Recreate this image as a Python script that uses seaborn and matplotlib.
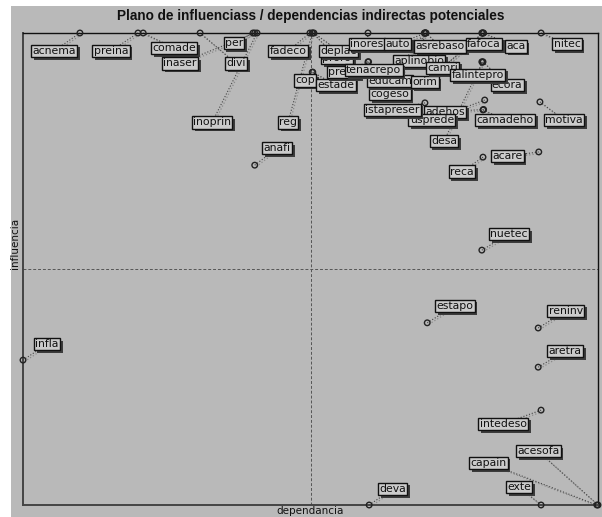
import pandas as pd
import matplotlib.pyplot as plt
import matplotlib.patheffects as pe
import matplotlib.transforms as mtransforms
from matplotlib.patches import Rectangle
import seaborn as sns

# Variables of the influence / dependence plane (label drawing order, bottom to top)
names = ["acnema", "preina", "comade", "inaser", "per", "divi", "fadeco", "inoprin",
         "reg", "anafi", "proro", "deplac", "cop", "estade", "inores", "auto",
         "asrebaso", "aca", "fafoca", "nitec", "aplinobio", "preco", "cogeso", "educam",
         "orim", "tenacrepo", "ecora", "camri", "falintepro", "adehos", "usprede",
         "istapreser", "desa", "camadeho", "motiva", "acare", "reca", "nuetec",
         "estapo", "reninv", "aretra", "intedeso", "acesofa", "capain", "exte",
         "deva", "infla"]
dependencia = [9.9, 20.0, 20.9, 40.3, 40.0, 30.8, 49.9, 40.7,
               50.3, 40.3, 50.4, 50.6, 50.3, 50.4, 60.0, 70.0,
               70.1, 80.0, 79.8, 90.1, 69.9, 60.0, 70.0, 69.8,
               80.1, 60.1, 80.0, 79.9, 79.8, 80.1, 80.3,
               69.9, 79.9, 80.0, 89.9, 89.7, 80.0, 79.8,
               70.3, 89.6, 89.6, 90.1, 100.0, 99.8, 90.1,
               60.2, 0.0]
influencia = [100, 100, 100, 100, 100, 100, 100, 100,
              100, 72.0, 100, 100, 91.7, 91.7, 100, 100,
              100, 100, 100, 100, 100, 93.9, 100, 100,
              100, 93.9, 93.9, 100, 93.9, 83.8, 85.8,
              85.2, 93.8, 83.7, 85.4, 74.8, 73.7, 54.0,
              38.6, 37.5, 29.2, 20.1, 0, 0, 0,
              0, 30.7]

# Label placement (layout, in axis units)
label_x = [5.4, 15.3, 26.3, 27.3, 36.7, 37.0, 46.1, 32.9,
           46.1, 44.2, 54.6, 54.9, 49.0, 54.4, 59.8, 65.2,
           72.5, 85.7, 80.2, 94.6, 68.9, 55.7, 63.8, 63.8,
           69.9, 61.0, 84.2, 73.0, 79.1, 73.4, 71.1,
           64.2, 73.2, 83.8, 94.1, 84.2, 76.3, 84.5,
           75.1, 94.4, 94.3, 83.5, 89.6, 80.9, 86.3,
           64.3, 4.2]
label_y = [96.2, 96.2, 96.8, 93.6, 97.9, 93.6, 96.2, 81.1,
           81.1, 75.6, 94.7, 96.2, 90.0, 89.0, 97.7, 97.7,
           97.2, 97.2, 97.7, 97.7, 94.1, 91.7, 87.1, 89.8,
           89.6, 92.2, 89.0, 92.6, 91.1, 83.3, 81.6,
           83.7, 77.1, 81.6, 81.6, 73.9, 70.6, 57.4,
           42.2, 41.1, 32.6, 17.2, 11.4, 8.9, 3.8,
           3.4, 34.1]

BG = "#b9b9b9"
BOX = "#cbcbcb"

sns.set_style("white")
plt.rcParams["font.family"] = ["DejaVu Sans"]

df = pd.DataFrame({"var": names, "dependencia": dependencia, "influencia": influencia,
                   "lx": label_x, "ly": label_y})

fig = plt.figure(figsize=(6.02, 5.17), dpi=100)
fig.patch.set_facecolor("white")
fig.patches.append(Rectangle((11 / 602, 0), 1, 511 / 517, transform=fig.transFigure,
                             facecolor=BG, edgecolor="none", zorder=-10))
ax = fig.add_axes([23 / 602, 12 / 517, 575 / 602, 472 / 517])
ax.set_facecolor(BG)

# Quadrant separators
ax.axvline(50, color="#555555", ls=(0, (3, 2)), lw=0.7, zorder=1)
ax.axhline(50, color="#555555", ls=(0, (3, 2)), lw=0.7, zorder=1)

# Leader lines from point to label (with a light shadow line)
shadow_tr = mtransforms.offset_copy(ax.transData, fig=fig, x=1.5, y=-1.5, units="dots")
for _, r in df.iterrows():
    ax.plot([r["dependencia"], r["lx"]], [r["influencia"], r["ly"]], ls=":",
            color="#8a8a8a", lw=0.9, transform=shadow_tr, zorder=2, clip_on=False)
    ax.plot([r["dependencia"], r["lx"]], [r["influencia"], r["ly"]], ls=":",
            color="#444444", lw=0.8, zorder=2, clip_on=False)

sns.scatterplot(data=df, x="dependencia", y="influencia", ax=ax, marker="o", s=16,
                facecolor="none", edgecolor="#222222", linewidth=1.0, zorder=3,
                clip_on=False, legend=False)

for i, r in df.iterrows():
    t = ax.text(r["lx"], r["ly"], r["var"], fontsize=7.8, ha="center", va="center",
                color="#111111", zorder=10 + i,
                bbox=dict(boxstyle="square,pad=0.12", fc=BOX, ec="#111111", lw=1.0))
    t.get_bbox_patch().set_path_effects([
        pe.withSimplePatchShadow(offset=(2, -2), shadow_rgbFace="#3c3c3c", alpha=1.0)])

ax.set_xlim(0, 100)
ax.set_ylim(0, 100)
ax.set_xticks([])
ax.set_yticks([])
for side in ["left", "bottom"]:
    ax.spines[side].set_color("#444444")
    ax.spines[side].set_linewidth(1.4)
for side in ["top", "right"]:
    ax.spines[side].set_color("#111111")
    ax.spines[side].set_linewidth(1.0)

ax.set_xlabel("dependancia", fontsize=7.5, labelpad=1, color="#111111")
ax.set_ylabel("")
fig.text(15 / 602, 1 - 243 / 517, "influencia", rotation=90, fontsize=7.5,
         ha="center", va="center", color="#111111")
fig.text(311 / 602, 1 - 16 / 517, "Plano de influenciass / dependencias indirectas potenciales",
         ha="center", va="center", fontsize=9.8, fontweight="bold",
         family=["Liberation Sans", "DejaVu Sans"], color="#111111")

fig.savefig("out.png", dpi=100)
